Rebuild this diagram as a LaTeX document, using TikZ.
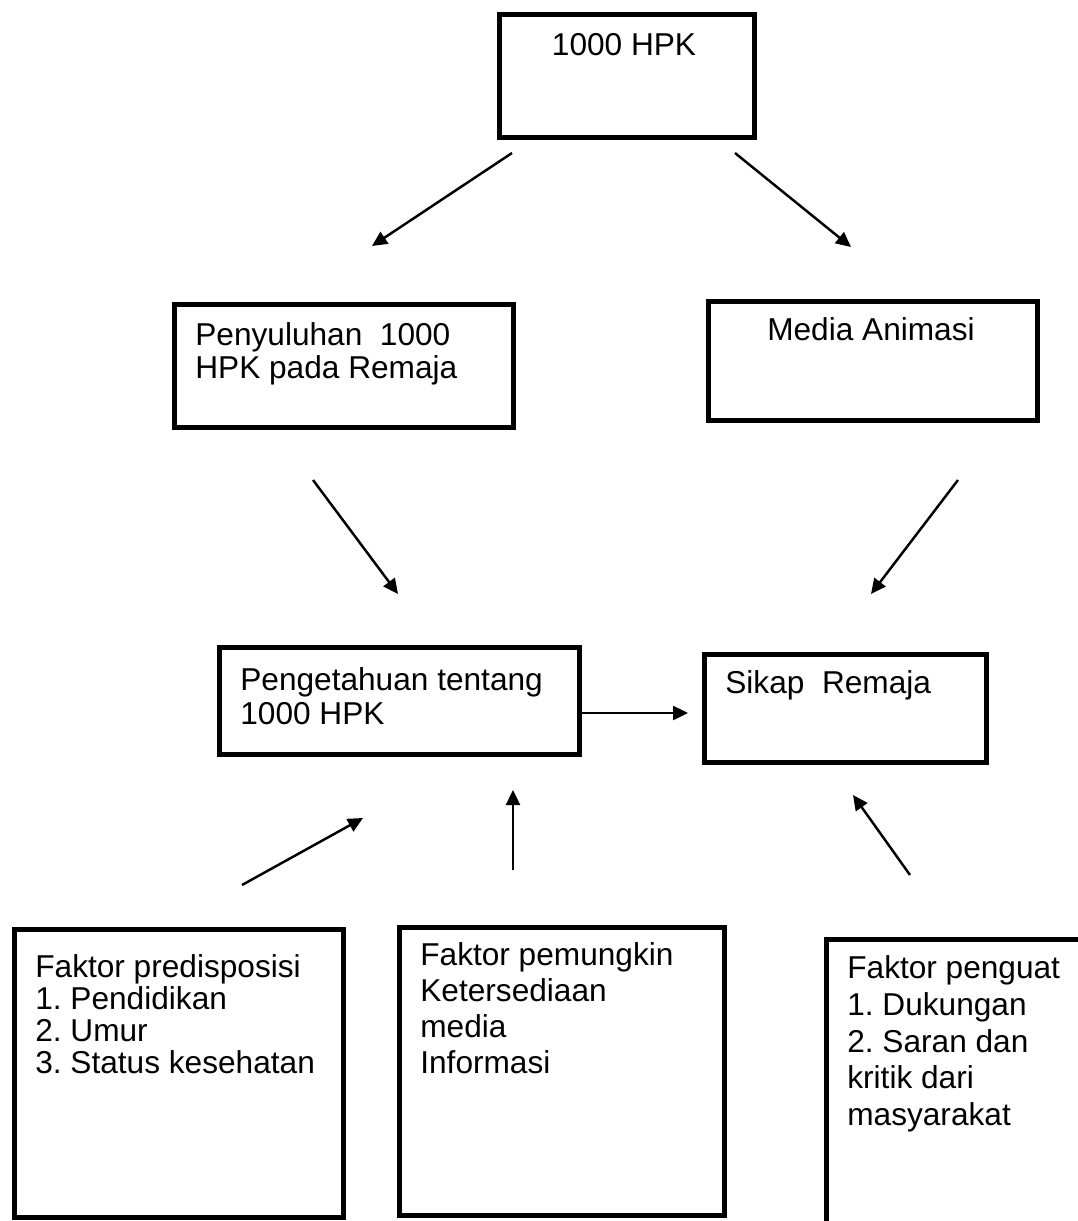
\documentclass[tikz,border=0pt]{standalone}
\usepackage{fontspec}
\setmainfont{Liberation Sans}
\frenchspacing
\usetikzlibrary{positioning,arrows.meta}
\tikzset{
  box/.style={draw,line width=3pt,rectangle,inner sep=0pt,anchor=north west},
  boxtext/.style={font=\fontsize{18}{#1}\selectfont,align=left,inner sep=0pt,anchor=north west},
  boxtext/.default=19,
  arr/.style={-{Triangle[length=0.3cm,width=0.28cm]},line width=1.4pt},
}

\begin{document}
\begin{tikzpicture}[x=0.02cm,y=-0.02cm]
  \useasboundingbox (0,0) rectangle (1078,1221);
  \clip (0,0) rectangle (1078,1221);
  % --- boxes ---
  \node[box,minimum width=5.1cm,minimum height=2.46cm]  (hpk)     at (497,12)  {};
  \node[box,minimum width=6.78cm,minimum height=2.46cm] (peny)    at (172,302) {};
  \node[box,minimum width=6.58cm,minimum height=2.38cm] (media)   at (706,299) {};
  \node[box,minimum width=7.2cm,minimum height=2.14cm]  (tahu)    at (217,645) {};
  \node[box,minimum width=5.64cm,minimum height=2.16cm] (sikap)   at (702,652) {};
  \node[box,minimum width=6.58cm,minimum height=5.76cm] (predis)  at (12,927)  {};
  \node[box,minimum width=6.5cm,minimum height=5.76cm]  (pemung)  at (397,925) {};
  \node[box,minimum width=5.8cm,minimum height=6.4cm]   (penguat) at (824,937) {};
  % --- texts ---
  \node[boxtext,anchor=base] (thpk)   at (624,55)  {1000 HPK};
  \node[boxtext]             (tpeny)  at (195,322) {Penyuluhan\ \ 1000\\HPK pada Remaja};
  \node[boxtext,anchor=base] (tmedia) at (871,340) {Media Animasi};
  \node[boxtext=19.3]        (ttahu)  at (240,667) {Pengetahuan tentang\\1000 HPK};
  \node[boxtext]             (tsikap) at (725,670) {Sikap\ \ Remaja};
  \node[boxtext=18.2]        (tpredis) at (35,954) {Faktor predisposisi\\1. Pendidikan\\2. Umur\\3. Status kesehatan};
  \node[boxtext=20.5]        (tpemung) at (420,942) {Faktor pemungkin\\Ketersediaan\\media\\Informasi};
  \node[boxtext=21]          (tpenguat) at (847,955) {Faktor penguat\\1. Dukungan\\2. Saran dan\\kritik dari\\masyarakat};
  % --- arrows ---
  \foreach \n/\p/\q in {ab/{512,153}/{372,246}, ac/{735,153}/{851,247},
                        bd/{313,480}/{398,594}, ce/{958,480}/{871,594},
                        de/{577,713}/{688,713}, fd/{242,885}/{363,818},
                        gd/{513,870}/{513,790}, he/{910,875}/{853,795}} {
    \coordinate (\n0) at (\p);
    \coordinate (\n1) at (\q);
    \draw[arr] (\n0) -- (\n1);
  }
\end{tikzpicture}
\end{document}
